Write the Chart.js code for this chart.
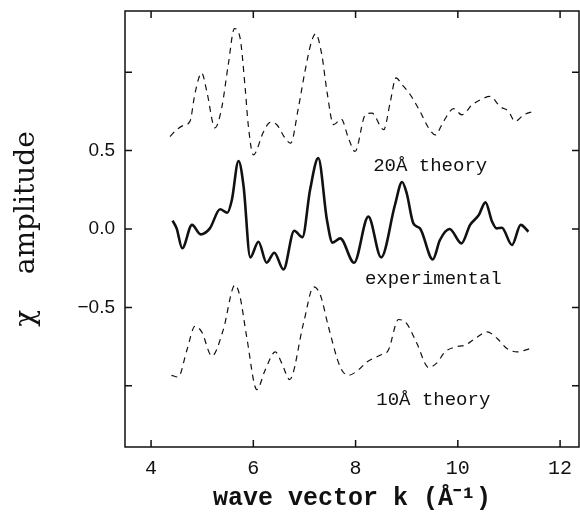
<!DOCTYPE html>
<html>
<head>
<meta charset="utf-8">
<script src="https://cdn.jsdelivr.net/npm/chart.js@4.4.0/dist/chart.umd.min.js"></script>
<style>
  html, body { margin: 0; padding: 0; background: #fff; }
</style>
</head>
<body>
<canvas id="chi" width="580" height="514"></canvas>
<script>
// 20 A theory (plotted with its offset)
const kTheory20 = [4.37, 4.50, 4.63, 4.76, 4.86, 4.99, 5.09, 5.25, 5.38, 5.51, 5.63, 5.74, 5.84, 5.90, 6.00,
  6.20, 6.33, 6.46, 6.62, 6.73, 6.88, 7.01, 7.14, 7.22, 7.34, 7.44, 7.57, 7.72, 7.86, 7.99,
  8.19, 8.32, 8.55, 8.68, 8.79, 8.91, 9.07, 9.26, 9.43, 9.56, 9.72, 9.92, 10.08, 10.28, 10.44,
  10.63, 10.83, 10.99, 11.12, 11.29, 11.48];
const chiTheory20 = [0.59, 0.633, 0.66, 0.686, 0.867, 0.995, 0.877, 0.645, 0.77, 1.048, 1.278, 1.22, 0.9, 0.665, 0.473,
  0.62, 0.68, 0.665, 0.58, 0.547, 0.77, 1.005, 1.197, 1.244, 1.11, 0.877, 0.665, 0.70, 0.58, 0.494,
  0.728, 0.739, 0.633, 0.813, 0.963, 0.92, 0.856, 0.75, 0.643, 0.60, 0.686, 0.767, 0.728, 0.792, 0.824,
  0.845, 0.78, 0.75, 0.686, 0.728, 0.75];

// experimental
const kExp = [4.42, 4.50, 4.61, 4.80, 4.97, 5.15, 5.35, 5.49, 5.58, 5.71, 5.81, 5.94, 6.10, 6.26, 6.41,
  6.59, 6.80, 6.96, 7.11, 7.27, 7.44, 7.55, 7.70, 7.97, 8.25, 8.50, 8.77, 8.91, 9.00, 9.13,
  9.26, 9.51, 9.65, 9.84, 10.07, 10.24, 10.41, 10.54, 10.67, 10.76, 10.86, 11.06, 11.23, 11.38];
const chiExp = [0.053, 0.004, -0.123, 0.026, -0.034, 0.004, 0.126, 0.104, 0.185, 0.434, 0.27, -0.181, -0.081, -0.215, -0.151,
  -0.258, -0.011, -0.053, 0.25, 0.452, 0.058, -0.087, -0.06, -0.215, 0.079, -0.181, 0.153, 0.30, 0.228, 0.036,
  0.004, -0.194, -0.07, 0.0, -0.092, 0.026, 0.089, 0.17, 0.047, 0.004, 0.008, -0.102, 0.026, -0.017];

// 10 A theory (plotted with its offset)
const kTheory10 = [4.40, 4.53, 4.70, 4.86, 4.99, 5.19, 5.41, 5.64, 5.74, 5.87, 6.07, 6.23, 6.43, 6.56, 6.71,
  6.98, 7.18, 7.31, 7.47, 7.70, 7.86, 8.06, 8.22, 8.48, 8.64, 8.84, 9.00, 9.20, 9.43, 9.59,
  9.75, 9.95, 10.14, 10.34, 10.57, 10.77, 10.96, 11.16, 11.42];
const chiTheory10 = [-0.933, -0.944, -0.773, -0.62, -0.656, -0.81, -0.645, -0.358, -0.432, -0.688, -1.024, -0.9, -0.784, -0.858, -0.96,
  -0.603, -0.369, -0.42, -0.624, -0.88, -0.933, -0.897, -0.848, -0.805, -0.773, -0.577, -0.603, -0.73, -0.884, -0.854,
  -0.784, -0.752, -0.741, -0.698, -0.656, -0.698, -0.762, -0.784, -0.762];

const xTicks = [4, 6, 8, 10, 12];
const yTicks = [-1, -0.5, 0, 0.5, 1];
const yLabelled = [-0.5, 0, 0.5];
const curveNames = ['20Å theory', 'experimental', '10Å theory'];

const ink = '#111';
const pts = (ks, vs) => ks.map((k, i) => ({ x: k, y: vs[i] }));

// box round the plot with inward ticks on all four sides, and the curve names
const frameTicks = {
  id: 'frameTicks',
  afterDraw(chart) {
    const { ctx, chartArea: a, scales: { x, y } } = chart;
    const len = 7;
    ctx.save();
    ctx.strokeStyle = ink;
    ctx.lineWidth = 1.5;
    ctx.strokeRect(a.left, a.top, a.right - a.left, a.bottom - a.top);
    ctx.beginPath();
    x.ticks.forEach(t => {
      const px = x.getPixelForValue(t.value);
      ctx.moveTo(px, a.bottom); ctx.lineTo(px, a.bottom - len);
      ctx.moveTo(px, a.top); ctx.lineTo(px, a.top + len);
    });
    y.ticks.forEach(t => {
      const py = y.getPixelForValue(t.value);
      ctx.moveTo(a.left, py); ctx.lineTo(a.left + len, py);
      ctx.moveTo(a.right, py); ctx.lineTo(a.right - len, py);
    });
    ctx.stroke();

    ctx.fillStyle = ink;
    ctx.font = '19px "Liberation Mono"';
    ctx.textAlign = 'center';
    ctx.textBaseline = 'middle';
    ctx.fillText(curveNames[0], x.getPixelForValue(9.46), y.getPixelForValue(0.40));
    ctx.fillText(curveNames[1], x.getPixelForValue(9.52), y.getPixelForValue(-0.32));
    ctx.fillText(curveNames[2], x.getPixelForValue(9.52), y.getPixelForValue(-1.09));
    ctx.restore();
  }
};

const dashed = { borderColor: ink, borderWidth: 1.2, borderDash: [6, 5], pointRadius: 0, fill: false, cubicInterpolationMode: 'monotone' };

new Chart(document.getElementById('chi'), {
  type: 'line',
  data: {
    datasets: [
      { label: curveNames[0], data: pts(kTheory20, chiTheory20), ...dashed },
      { label: curveNames[1], data: pts(kExp, chiExp), borderColor: ink, borderWidth: 2.6, pointRadius: 0, fill: false, cubicInterpolationMode: 'monotone' },
      { label: curveNames[2], data: pts(kTheory10, chiTheory10), ...dashed }
    ]
  },
  options: {
    responsive: false,
    animation: false,
    layout: { padding: { top: 11, right: 1, left: 0, bottom: 0 } },
    plugins: { legend: { display: false }, tooltip: { enabled: false } },
    scales: {
      x: {
        type: 'linear',
        min: 3.49,
        max: 12.37,
        afterBuildTicks: s => { s.ticks = xTicks.map(v => ({ value: v })); },
        afterFit: s => { s.height = 67; s.paddingLeft = 0; s.paddingRight = 0; },
        grid: { display: false, drawTicks: false },
        border: { display: false },
        ticks: { color: ink, padding: 10, maxRotation: 0, font: { family: 'Liberation Mono', size: 20 } },
        title: {
          display: true,
          text: 'wave vector k (Å⁻¹)',
          color: ink,
          padding: { top: 0, bottom: 0 },
          font: { family: 'Liberation Mono', size: 25, weight: 'bold' }
        }
      },
      y: {
        min: -1.39,
        max: 1.39,
        afterBuildTicks: s => { s.ticks = yTicks.map(v => ({ value: v })); },
        afterFit: s => { s.width = 125; s.paddingTop = 0; s.paddingBottom = 0; },
        grid: { display: false, drawTicks: false },
        border: { display: false },
        ticks: {
          color: ink,
          padding: 10,
          font: { family: 'Liberation Sans', size: 19 },
          callback: v => yLabelled.includes(v) ? v.toFixed(1).replace('-', '−') : ''
        },
        title: {
          display: true,
          text: 'χ    amplitude',
          color: ink,
          padding: { top: 10, bottom: 0 },
          font: { family: 'DejaVu Serif', size: 28 }
        }
      }
    }
  },
  plugins: [frameTicks]
});
</script>
</body>
</html>
